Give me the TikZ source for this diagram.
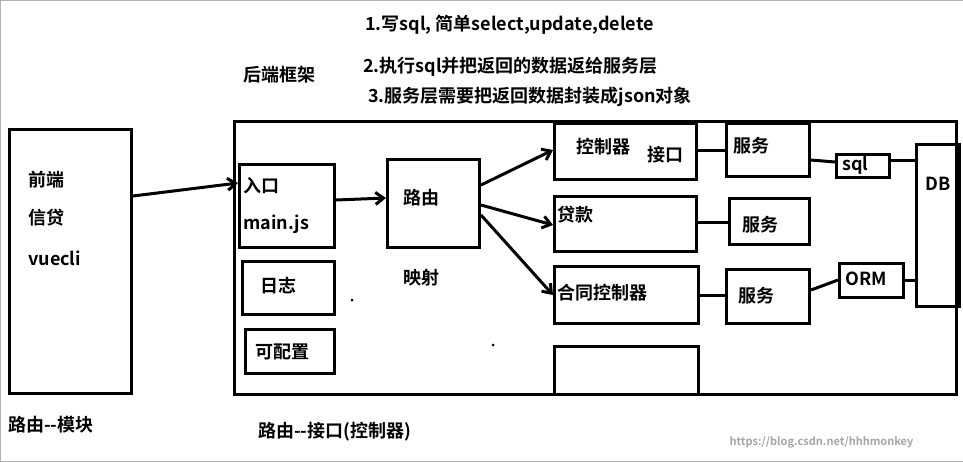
\documentclass[tikz,border=0pt]{standalone}
\usepackage{fontspec}
\usetikzlibrary{arrows.meta}
\setmainfont{Noto Sans CJK SC Bold}
\begin{document}
\begin{tikzpicture}[x=1pt,y=-1pt,
  bx/.style={draw,line width=3pt},
  ln/.style={line width=3pt},
  ar/.style={line width=3pt,-{Straight Barb[length=8pt,width=12pt]}},
  t/.style={font=\fontsize{18}{20}\selectfont,inner sep=0pt,anchor=west}]
\useasboundingbox[fill=white] (0,0) rectangle (963,461);
\draw[gray!60,line width=1pt] (0,0) rectangle (963,461);
% left
\node[bx,minimum width=122,minimum height=264,anchor=north west] (fe) at (8,128) {};
\node[t] (f1) at (28,180) {前端};
\node[t] (f2) at (28,218) {信贷};
\node[t] (f3) at (28,258) {vuecli};
\node[t] (lm) at (8,425) {路由{-}{-}模块};
% big frame
\node[bx,minimum width=722,minimum height=273,anchor=north west] (be) at (233,120) {};
\node[t] (bt) at (243,75) {后端框架};
\node[t] (n1) at (365,25) {1.写sql, 简单select,update,delete};
\node[t] (n2) at (363,67) {2.执行sql并把返回的数据返给服务层};
\node[t] (n3) at (368,97) {3.服务层需要把返回数据封装成json对象};
\node[t] (rc) at (258,432) {路由{-}{-}接口(控制器)};
\node[anchor=west,text=gray!70,font=\fontsize{11}{13}\selectfont] (wm) at (726,442) {https://blog.csdn.net/hhhmonkey};
% inner boxes
\node[bx,minimum width=95,minimum height=83,anchor=north west] (en) at (238,163) {};
\node[t] at (243,186) {入口};
\node[t] at (243,224) {main.js};
\node[bx,minimum width=92,minimum height=53,anchor=north west] (log) at (241,260) {};
\node[t] at (260,286) {日志};
\node[bx,minimum width=89,minimum height=44,anchor=north west] (cfg) at (244,328) {};
\node[t] at (255,352) {可配置};
\node[bx,minimum width=92,minimum height=88,anchor=north west] (rt) at (386,158) {};
\node[t] at (403,198) {路由};
\node[t] at (403,278) {映射};
\fill (352,300) circle (1.5);
\fill (493,345) circle (1.5);
% controllers
\node[bx,minimum width=142,minimum height=56,anchor=north west] (c1) at (553,122) {};
\node[t] at (576,147) {控制器};
\node[t] at (647,155) {接口};
\node[bx,minimum width=142,minimum height=55,anchor=north west] (c2) at (553,195) {};
\node[t] at (557,215) {贷款};
\node[bx,minimum width=144,minimum height=57,anchor=north west] (c3) at (553,265) {};
\node[t] at (557,293) {合同控制器};
\node[bx,minimum width=144,minimum height=48,anchor=north west] (c4) at (553,345) {};
% services
\node[bx,minimum width=83,minimum height=53,anchor=north west] (s1) at (725,122) {};
\node[t] at (733,146) {服务};
\node[bx,minimum width=80,minimum height=46,anchor=north west] (s2) at (728,197) {};
\node[t] at (742,225) {服务};
\node[bx,minimum width=83,minimum height=54,anchor=north west] (s3) at (725,268) {};
\node[t] at (738,296) {服务};
\node[bx,minimum width=53,minimum height=23,anchor=north west] (sql) at (835,153) {};
\node[t] at (842,165) {sql};
\node[bx,minimum width=64,minimum height=34,anchor=north west] (orm) at (838,262) {};
\node[t] at (845,279) {ORM};
\node[bx,minimum width=43,minimum height=162,anchor=north west] (db) at (915,143) {};
\node[t] at (925,184) {DB};
% connectors
\draw[ar] (fe.east |- 0,196) -- (en.west |- 0,183);
\draw[ar] (en.east |- 0,200) -- (rt.west |- 0,198);
\draw[ar] (rt.east |- 0,185) -- (c1.west |- 0,150);
\draw[ar] (rt.east |- 0,205) -- (c2.west |- 0,225);
\draw[ar] (rt.east |- 0,215) -- (c3.west |- 0,295);
\draw[ln] (c1.east |- 0,150) -- (s1.west |- 0,150);
\draw[ln] (c2.east |- 0,222) -- (s2.west |- 0,222);
\draw[ln] (c3.east |- 0,295) -- (s3.west |- 0,295);
\draw[ln] (s1.east |- 0,160) -- (sql.west |- 0,162);
\draw[ln] (sql.east |- 0,160) -- (db.west |- 0,160);
\draw[ln] (s3.east |- 0,290) -- (orm.west |- 0,280);
\draw[ln] (orm.east |- 0,280) -- (db.west |- 0,280);
\end{tikzpicture}
\end{document}
